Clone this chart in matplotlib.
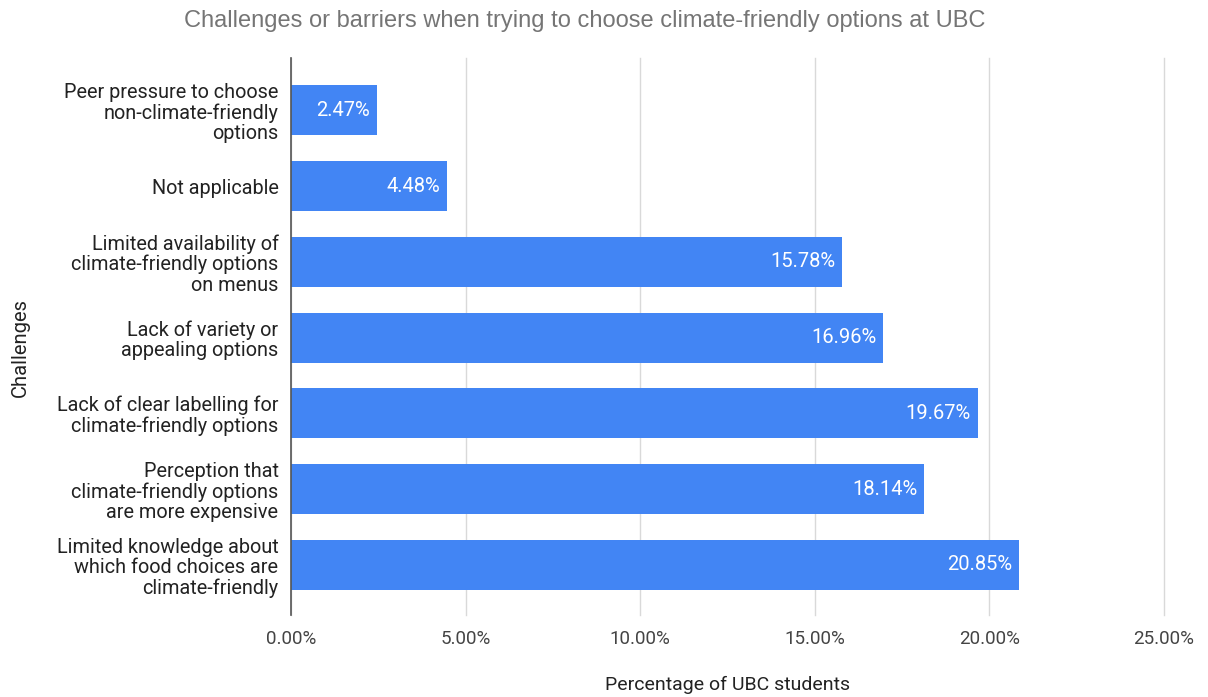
import matplotlib.pyplot as plt
from matplotlib.ticker import FuncFormatter

# data
challenges = [
    "Peer pressure to choose\nnon-climate-friendly\noptions",
    "Not applicable",
    "Limited availability of\nclimate-friendly options\non menus",
    "Lack of variety or\nappealing options",
    "Lack of clear labelling for\nclimate-friendly options",
    "Perception that\nclimate-friendly options\nare more expensive",
    "Limited knowledge about\nwhich food choices are\nclimate-friendly",
]
percent = [2.47, 4.48, 15.78, 16.96, 19.67, 18.14, 20.85]
xticks = [0, 5, 10, 15, 20, 25]

bar_color = "#4285F4"

fig = plt.figure(figsize=(12.08, 6.97), dpi=100)
ax = fig.add_axes([291 / 1208, 1 - 615 / 697, (1164 - 291) / 1208, (615 - 58) / 697])

ypos = list(range(len(challenges)))
ax.barh(ypos, percent, height=0.66, color=bar_color, zorder=3)

# value labels inside bar ends
for y, v in zip(ypos, percent):
    ax.text(v - 0.2, y, f"{v:.2f}%", ha="right", va="center", color="white",
            fontsize=14.5, family="Roboto", zorder=4)

ax.set_xlim(0, 25)
ax.set_ylim(6.66, -0.69)
ax.set_xticks(xticks)
ax.xaxis.set_major_formatter(FuncFormatter(lambda x, p: f"{x:.2f}%"))
ax.set_yticks(ypos)
ax.set_yticklabels(challenges, family="Roboto", fontsize=14.3, color="#222222",
                   linespacing=1.08)
for lab in ax.get_xticklabels():
    lab.set_family("Roboto")
    lab.set_fontsize(13.5)
    lab.set_color("#444444")

ax.tick_params(axis="both", length=0)
ax.tick_params(axis="x", pad=11)
ax.tick_params(axis="y", pad=9)
ax.grid(axis="x", color="#d9d9d9", linewidth=1, zorder=0)
for gl in ax.get_xgridlines():
    gl.set_clip_on(False)
for s in ["top", "right", "bottom"]:
    ax.spines[s].set_visible(False)
ax.spines["left"].set_color("#555555")
ax.spines["left"].set_linewidth(1.2)
ax.spines["left"].set_zorder(5)

fig.text((602 + 853) / 2 / 1208, 1 - 685 / 697, "Percentage of UBC students",
         ha="center", va="center", family="Roboto", fontsize=14, color="#222222")
fig.text(20 / 1208, 1 - 348 / 697, "Challenges", rotation=90,
         ha="center", va="center", family="Roboto", fontsize=14.5, color="#222222")

fig.text(585 / 1208, 1 - 21 / 697, "Challenges or barriers when trying to choose climate-friendly options at UBC",
         ha="center", va="center", fontsize=17, family="Liberation Sans", color="#757575")

fig.savefig("out.png", dpi=100)
